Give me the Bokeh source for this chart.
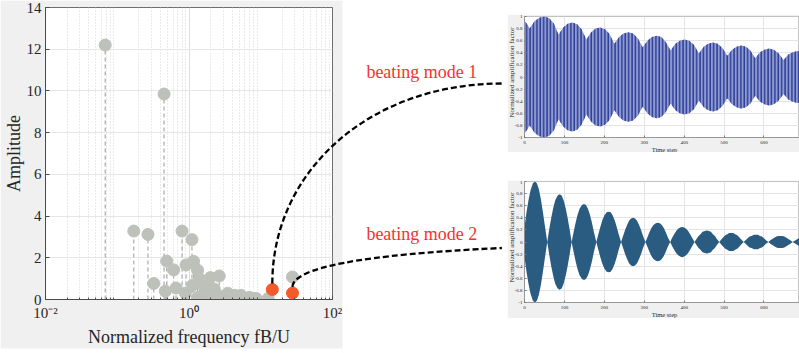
import numpy as np
from bokeh.plotting import figure
from bokeh.layouts import row, column
from bokeh.models import Range1d, LinearScale, FixedTicker, Spacer
from bokeh.core.properties import value
from bokeh.embed import file_html
from bokeh.resources import INLINE

SERIF = "Liberation Serif"
INK = "#262626"

# ---- spectrum: normalized frequency fB/U and amplitude of each mode ----
freq = [0.068, 0.170, 0.268, 0.323, 0.449, 0.468, 0.489, 0.612, 0.659, 0.80,
        0.89, 0.91, 1.10, 1.16, 1.12, 1.32, 1.64, 1.98, 2.25, 2.64,
        1.32, 1.47, 1.60, 1.83, 2.10, 2.52, 3.00, 3.46, 3.80, 4.27,
        4.70, 5.28, 5.80, 6.94, 7.60, 8.60, 12.7, 27.7, 1.40]
amp = [12.2, 3.28, 3.12, 0.77, 9.85, 0.40, 1.84, 1.42, 0.55, 3.28,
       0.30, 1.66, 2.87, 1.83, 0.68, 1.40, 0.60, 1.05, 0.50, 1.13,
       0.10, 0.05, 0.08, 0.13, 0.03, 0.20, 0.10, 0.30, 0.10, 0.20,
       0.15, 0.20, 0.08, 0.10, 0.06, 0.05, 0.05, 1.08, 1.00]

# the two beating modes
beat_freq = [14.5, 27.7]
beat_amp = [0.48, 0.31]
beat_labels = ["beating mode 1", "beating mode 2"]

x_ticks = [0.01, 1, 100]
x_tick_labels = ["10\u207b\u00b2", "10\u2070", "10\u00b2"]
y_ticks = [0, 2, 4, 6, 8, 10, 12, 14]

# ---- time responses: envelope of the normalized amplification factor ----
t1 = [0, 6, 13, 25, 37, 50, 62, 74, 85, 97, 108, 120, 132, 143, 155, 167, 178,
      190, 202, 213, 225, 237, 248, 260, 272, 284, 296, 308, 319, 331, 343, 354,
      366, 378, 389, 401, 413, 425, 437, 449, 460, 472, 484, 496, 508, 520, 531,
      543, 555, 566, 578, 590, 601, 613, 625, 637, 649, 661, 672, 684, 696]
env1 = [0.93, 0.88, 0.80, 0.92, 0.98, 1.00, 0.97, 0.88, 0.70, 0.82, 0.88, 0.90,
        0.87, 0.79, 0.62, 0.74, 0.80, 0.82, 0.79, 0.71, 0.55, 0.66, 0.72, 0.74,
        0.72, 0.64, 0.49, 0.60, 0.66, 0.68, 0.66, 0.58, 0.44, 0.55, 0.60, 0.62,
        0.60, 0.53, 0.39, 0.50, 0.55, 0.57, 0.55, 0.48, 0.35, 0.45, 0.50, 0.52,
        0.50, 0.44, 0.31, 0.41, 0.45, 0.47, 0.45, 0.39, 0.28, 0.37, 0.41, 0.43,
        0.41]

t2 = [0, 5, 10, 15, 21, 26, 31, 36, 41, 46, 51, 57,
      62, 67, 72, 77, 83, 88, 93, 98, 103, 108, 113, 118,
      123, 128, 133, 138, 144, 149, 154, 159, 164, 169, 174, 180,
      185, 190, 195, 200, 206, 211, 216, 221, 226, 231, 236, 242,
      247, 252, 257, 262, 267, 272, 277, 282, 287, 292, 297, 303,
      308, 313, 318, 323, 329, 334, 339, 344, 349, 354, 359, 365,
      370, 375, 380, 385, 390, 395, 400, 405, 410, 415, 420, 426,
      431, 436, 441, 446, 452, 457, 462, 467, 472, 477, 482, 488,
      493, 498, 503, 508, 513, 518, 523, 528, 533, 538, 543, 549,
      554, 559, 564, 569, 575, 580, 585, 590, 595, 600, 605, 611,
      616, 621, 626, 631, 636, 641, 646, 651, 656, 661, 666, 672,
      677, 682, 687, 692]
env2 = [0.25, 0.49, 0.69, 0.85, 0.97, 1.00, 0.97, 0.87, 0.71, 0.50, 0.27, 0.0,
        0.21, 0.40, 0.56, 0.69, 0.77, 0.79, 0.77, 0.69, 0.56, 0.40, 0.21, 0.0,
        0.16, 0.32, 0.45, 0.55, 0.61, 0.63, 0.61, 0.55, 0.45, 0.32, 0.16, 0.0,
        0.13, 0.25, 0.36, 0.44, 0.49, 0.50, 0.49, 0.44, 0.36, 0.25, 0.13, 0.0,
        0.10, 0.20, 0.28, 0.35, 0.39, 0.40, 0.39, 0.35, 0.28, 0.20, 0.10, 0.0,
        0.08, 0.16, 0.23, 0.28, 0.31, 0.32, 0.31, 0.28, 0.23, 0.16, 0.08, 0.0,
        0.07, 0.13, 0.18, 0.22, 0.24, 0.25, 0.24, 0.22, 0.18, 0.13, 0.07, 0.0,
        0.05, 0.10, 0.13, 0.17, 0.18, 0.19, 0.18, 0.17, 0.13, 0.10, 0.05, 0.0,
        0.04, 0.08, 0.11, 0.13, 0.15, 0.15, 0.15, 0.13, 0.11, 0.08, 0.04, 0.0,
        0.03, 0.06, 0.09, 0.10, 0.12, 0.12, 0.12, 0.10, 0.09, 0.06, 0.03, 0.0,
        0.03, 0.05, 0.07, 0.09, 0.10, 0.10, 0.10, 0.09, 0.07, 0.05, 0.03, 0.0,
        0.02, 0.04, 0.06, 0.07]

ts_x_ticks = [0, 100, 200, 300, 400, 500, 600]
ts_y_ticks = [-1, -0.8, -0.6, -0.4, -0.2, 0, 0.2, 0.4, 0.6, 0.8, 1]
ts_x_label = "Time step"
ts_y_label = "Normalized amplification factor"

# ---------------- spectrum panel ----------------
FL, FR, FT, FB = 44, 332, 7, 299          # frame edges on the canvas
p = figure(width=507, height=353, x_axis_type="log",
           x_range=Range1d(0.01, 100), y_range=Range1d(0, 14),
           output_backend="svg", toolbar_location=None,
           min_border_left=FL, min_border_right=507 - FR,
           min_border_top=FT, min_border_bottom=353 - FB,
           border_fill_color="#f0f0f0", background_fill_color="white",
           outline_line_color="#6e6e6e", outline_line_width=1)

# canvas-pixel coordinate system for the connectors and labels
p.extra_x_ranges = {"px": Range1d(FL, FR)}
p.extra_y_ranges = {"px": Range1d(FB, FT)}
p.extra_x_scales = {"px": LinearScale()}
p.extra_y_scales = {"px": LinearScale()}

p.xaxis.ticker = FixedTicker(
    ticks=x_ticks,
    minor_ticks=[m * 10.0 ** e for e in (-2, -1, 0, 1) for m in range(2, 10)])
p.xaxis.major_label_overrides = dict(zip(x_ticks, x_tick_labels))
p.yaxis.ticker = FixedTicker(ticks=y_ticks)

for ax in p.axis:
    ax.major_label_text_font = SERIF
    ax.major_label_text_font_size = "15px"
    ax.major_label_text_color = INK
    ax.axis_label_text_font = SERIF
    ax.axis_label_text_font_size = "18px"
    ax.axis_label_text_font_style = "normal"
    ax.axis_label_text_color = INK
    ax.axis_line_color = "#4a4a4a"
    ax.major_tick_line_color = "#4a4a4a"
    ax.minor_tick_line_color = "#4a4a4a"
    ax.major_tick_in = 4
    ax.major_tick_out = 0
    ax.minor_tick_in = 2
    ax.minor_tick_out = 0
p.yaxis.minor_tick_line_color = None
p.xaxis.axis_label = "Normalized frequency fB/U"
p.yaxis.axis_label = "Amplitude"
p.xaxis.major_label_standoff = 5
p.yaxis.major_label_standoff = 4
p.xaxis.axis_label_standoff = 3
p.yaxis.axis_label_standoff = 0

p.xgrid.grid_line_color = "#dedede"
p.xgrid.minor_grid_line_color = "#d6d6d6"
p.xgrid.minor_grid_line_dash = "1 2"
p.ygrid.grid_line_color = "#e6e6e6"

p.segment(x0=freq, y0=0, x1=freq, y1=amp, line_color="#a9a9a9",
          line_dash="4 3", line_width=1.2)
p.scatter(freq, amp, size=12, fill_color="#bec0ba", line_color="#bec0ba")
p.scatter(beat_freq, beat_amp, size=12, fill_color="#f45a2a", line_color="#f45a2a")

# white area to the right of the spectrum panel and below it
p.quad(left=[342, -5], right=[515, 342], top=[-5, 348], bottom=[360, 360],
       x_range_name="px", y_range_name="px", fill_color="white",
       line_color=None, level="overlay")


def to_px(f, a):
    return (FL + (np.log10(f) + 2) / 4 * (FR - FL),
            FB - a / 14 * (FB - FT))


# dashed connectors from each beating mode to its time response
sx1, sy1 = to_px(beat_freq[0], beat_amp[0])
sx2, sy2 = to_px(beat_freq[1], beat_amp[1])
ends_y = [83, 247.5]
end_x = 502
p.bezier(x0=[sx1, sx2], y0=[sy1 - 6, sy2 - 6], x1=[end_x, end_x], y1=ends_y,
         cx0=[sx1, sx2], cy0=[170, sy2 - 25], cx1=[370, 360], cy1=[83, 254],
         line_color="black", line_width=2.3, line_dash="6 3",
         x_range_name="px", y_range_name="px", level="overlay")
p.scatter(x=[end_x + 3, end_x + 3], y=ends_y, marker="triangle",
          angle=-np.pi / 2, size=8, fill_color="black", line_color="black",
          x_range_name="px", y_range_name="px", level="overlay")

p.text(x=[366, 366], y=[71, 233], text=beat_labels,
       text_font=value(SERIF), text_font_size="18px", text_color="#fa3030",
       text_baseline="middle", x_range_name="px", y_range_name="px",
       level="overlay")


# ---------------- time-response panels ----------------
PW, PH, FH, BL = 292, 138, 121, 17


def response_panel(t, env, fill, hatch, top_border):
    q = figure(width=PW, height=PH, x_range=Range1d(0, 689),
               y_range=Range1d(-1, 1), output_backend="svg",
               toolbar_location=None, min_border_left=BL, min_border_right=0,
               min_border_top=top_border,
               min_border_bottom=PH - FH - top_border,
               border_fill_color="#f0f0f0", background_fill_color="white",
               outline_line_color="#9a9a9a", outline_line_width=0.6)
    # pixel coordinates of this panel's canvas, for the axis titles
    q.extra_x_ranges = {"px": Range1d(BL, PW)}
    q.extra_y_ranges = {"px": Range1d(top_border + FH, top_border)}
    q.xaxis.ticker = FixedTicker(ticks=ts_x_ticks)
    q.yaxis.ticker = FixedTicker(ticks=ts_y_ticks)
    q.yaxis.major_label_overrides = {v: f"{v:g}" for v in ts_y_ticks}
    for ax in q.axis:
        ax.major_label_text_font = SERIF
        ax.major_label_text_font_size = "5px"
        ax.major_label_text_color = INK
        ax.axis_line_color = "#7a7a7a"
        ax.axis_line_width = 0.6
        ax.major_tick_line_color = "#7a7a7a"
        ax.major_tick_in = 2
        ax.major_tick_out = 0
        ax.minor_tick_line_color = None
    q.xaxis.major_label_standoff = 3
    q.yaxis.major_label_standoff = 2
    q.grid.grid_line_color = "#e4e4e4"
    lower = [-e for e in env]
    kw = {}
    if hatch:
        kw = dict(hatch_pattern="vertical_line", hatch_color=hatch,
                  hatch_scale=3.4, hatch_weight=1.5)
    q.varea(x=t, y1=lower, y2=env, fill_color=fill, **kw)

    q.text(x=[157], y=[top_border + FH + 12], text=[ts_x_label],
           text_font=value(SERIF), text_font_size="6.5px", text_color=INK,
           text_align="center", text_baseline="middle",
           x_range_name="px", y_range_name="px", level="overlay")
    q.text(x=[4], y=[top_border + 56], text=[ts_y_label], angle=np.pi / 2,
           text_font=value(SERIF), text_font_size="7px", text_color=INK,
           text_align="center", text_baseline="middle",
           x_range_name="px", y_range_name="px", level="overlay")
    return q


q1 = response_panel(t1, env1, "#8f9ad1", "#2c3e98", 2)
q2 = response_panel(t2, env2, "#2a5b81", None, 1)

right = column(Spacer(width=PW, height=14), q1, Spacer(width=PW, height=28),
               q2, Spacer(width=PW, height=35))
layout = row(p, right)

open("out.html", "w").write(file_html(layout, INLINE))
